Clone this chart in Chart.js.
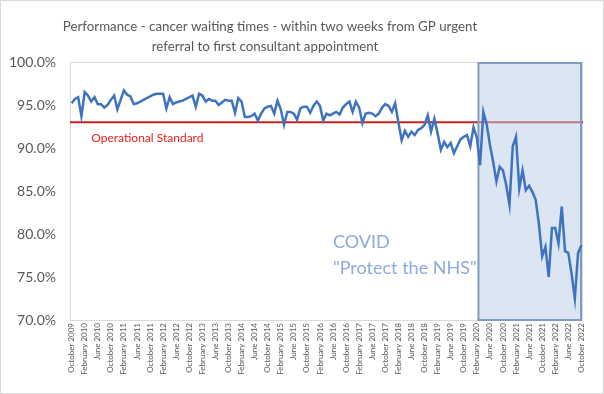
<!DOCTYPE html>
<html>
<head>
<meta charset="utf-8">
<script src="https://cdn.jsdelivr.net/npm/chart.js@4/dist/chart.umd.min.js"></script>
<style>
  html, body { margin: 0; padding: 0; background: #ffffff; }
  #wrap { width: 604px; height: 394px; position: relative; }
</style>
</head>
<body>
<div id="wrap"><canvas id="c" width="604" height="394"></canvas></div>
<script>
// ---- DATA ----
const titleLines = [
  "Performance - cancer waiting times - within two weeks from GP urgent",
  "referral to first consultant appointment"
];
const monthNames = ["January","February","March","April","May","June","July","August","September","October","November","December"];
const startYear = 2009, startMonth = 9; // October 2009
const categories = [];
for (let i = 0; i < 157; i++) {
  const m = (startMonth + i) % 12;
  const y = startYear + Math.floor((startMonth + i) / 12);
  categories.push(monthNames[m] + " " + y);
}
const performance = [
  95.2, 95.7, 95.9, 93.7, 96.5, 96.1, 95.4, 95.9, 95.1, 95.1,
  94.7, 95.0, 95.6, 96.1, 94.5, 95.6, 96.7, 96.2, 96.0, 95.1,
  95.2, 95.4, 95.6, 95.8, 96.0, 96.2, 96.3, 96.3, 96.3, 94.6,
  95.9, 95.1, 95.3, 95.4, 95.5, 95.7, 95.9, 96.1, 94.8, 96.3,
  96.1, 95.4, 95.7, 95.5, 95.5, 95.0, 95.3, 95.6, 95.5, 95.5,
  94.1, 95.8, 95.4, 93.6, 93.6, 93.7, 94.0, 93.2, 94.0, 94.6,
  94.8, 94.9, 94.0, 95.5, 94.5, 92.7, 94.2, 94.2, 94.0, 93.3,
  94.6, 94.8, 94.8, 94.1, 94.9, 95.4, 94.9, 93.2, 94.0, 93.8,
  94.0, 94.2, 93.9, 94.7, 95.1, 95.4, 94.2, 95.4, 94.7, 92.9,
  94.0, 94.1, 94.0, 93.7, 94.0, 94.7, 95.1, 94.9, 94.2, 95.2,
  93.0, 90.9, 92.0, 91.3, 91.9, 91.5, 92.1, 92.3, 92.7, 93.8,
  91.9, 93.4, 91.7, 89.8, 90.7, 90.1, 90.6, 89.4, 90.2, 91.0,
  91.3, 91.5, 90.2, 92.4, 91.2, 88.0, 94.2, 92.8, 90.4, 88.4,
  86.1, 87.8, 87.4, 85.7, 83.4, 90.2, 91.3, 85.3, 87.4, 85.1,
  85.6, 84.9, 84.0, 81.2, 77.4, 78.5, 75.0, 80.7, 80.7, 78.9,
  83.2, 78.0, 77.8, 75.4, 72.5, 77.8, 78.7
];
const tickEvery = 4;
const yTicks = [70, 75, 80, 85, 90, 95, 100];
const operationalStandard = 93;
const standardLabel = "Operational Standard";
const covidStart = "March 2020";
const covidLabel = ["COVID", "\"Protect the NHS\""];

// ---- STYLE ----
const textGrey = "#595959";
const font = "Lato, 'Noto Sans', sans-serif";

const decor = {
  id: "decor",
  beforeDraw(chart) {
    const ctx = chart.ctx;
    ctx.save();
    ctx.fillStyle = "#ffffff";
    ctx.fillRect(0, 0, chart.width, chart.height);
    ctx.strokeStyle = "#d9d9d9";
    ctx.lineWidth = 1;
    ctx.strokeRect(0.5, 0.5, chart.width - 1, chart.height - 1);
    // title
    ctx.fillStyle = textGrey;
    ctx.font = "13.3px " + font;
    ctx.textAlign = "center";
    ctx.textBaseline = "middle";
    ctx.fillText(titleLines[0], 270, 27);
    ctx.fillText(titleLines[1], 265, 47);
    ctx.restore();
  },
  beforeDatasetsDraw(chart) {
    const ctx = chart.ctx, a = chart.chartArea;
    const xs = chart.scales.x, ys = chart.scales.y;
    ctx.save();
    // plot border
    ctx.strokeStyle = "#d9d9d9";
    ctx.lineWidth = 1;
    ctx.strokeRect(Math.round(a.left) + 0.5, Math.round(a.top) + 0.5, Math.round(a.right - a.left) - 1, Math.round(a.bottom - a.top));
    // operational standard line
    const yStd = ys.getPixelForValue(operationalStandard);
    ctx.strokeStyle = "#c8201c";
    ctx.lineWidth = 2;
    ctx.beginPath();
    ctx.moveTo(a.left, yStd);
    ctx.lineTo(a.right, yStd);
    ctx.stroke();
    // label
    ctx.fillStyle = "#e8201c";
    ctx.font = "12px " + font;
    ctx.textAlign = "left";
    ctx.textBaseline = "middle";
    ctx.fillText(standardLabel, xs.getPixelForValue(6), ys.getPixelForValue(91.2));
    // covid box
    const idx = categories.indexOf(covidStart);
    const x0 = xs.getPixelForValue(idx - 0.5);
    const x1 = a.right - 2;
    ctx.fillStyle = "rgba(185,205,229,0.5)";
    ctx.fillRect(x0, a.top, x1 - x0, a.bottom - a.top);
    ctx.strokeStyle = "#7f9bc4";
    ctx.lineWidth = 2;
    ctx.strokeRect(x0, a.top + 1, x1 - x0, a.bottom - a.top - 1);
    // covid text
    ctx.fillStyle = "#8eaadb";
    ctx.font = "18px " + font;
    ctx.textAlign = "left";
    ctx.fillText(covidLabel[0], xs.getPixelForValue(80), ys.getPixelForValue(79));
    ctx.fillText(covidLabel[1], xs.getPixelForValue(80), ys.getPixelForValue(76));
    ctx.restore();
  }
};

new Chart(document.getElementById("c"), {
  type: "line",
  data: {
    labels: categories,
    datasets: [{
      data: performance,
      borderColor: "#3f73c0",
      borderWidth: 2.5,
      pointRadius: 0,
      tension: 0,
      fill: false
    }]
  },
  options: {
    responsive: false,
    animation: false,
    layout: { padding: { top: 62, right: 21, left: 0, bottom: 0 } },
    plugins: { legend: { display: false }, title: { display: false }, tooltip: { enabled: false } },
    scales: {
      x: {
        type: "category",
        offset: true,
        grid: { display: false, drawTicks: false },
        border: { display: false },
        afterFit(s) { s.height = 74; },
        ticks: {
          autoSkip: false,
          minRotation: 90,
          maxRotation: 90,
          padding: 3,
          color: textGrey,
          font: { family: font, size: 8 },
          callback(v, i) { return i % tickEvery === 0 ? categories[i] : ""; }
        }
      },
      y: {
        min: 70,
        max: 100,
        afterFit(s) { s.width = 70; },
        afterBuildTicks(s) { s.ticks = yTicks.map(v => ({ value: v })); },
        grid: { display: false, drawTicks: false },
        border: { display: false },
        ticks: {
          padding: 14,
          color: textGrey,
          font: { family: font, size: 14 },
          callback(v) { return v.toFixed(1) + "%"; }
        }
      }
    }
  },
  plugins: [decor]
});
</script>
</body>
</html>
